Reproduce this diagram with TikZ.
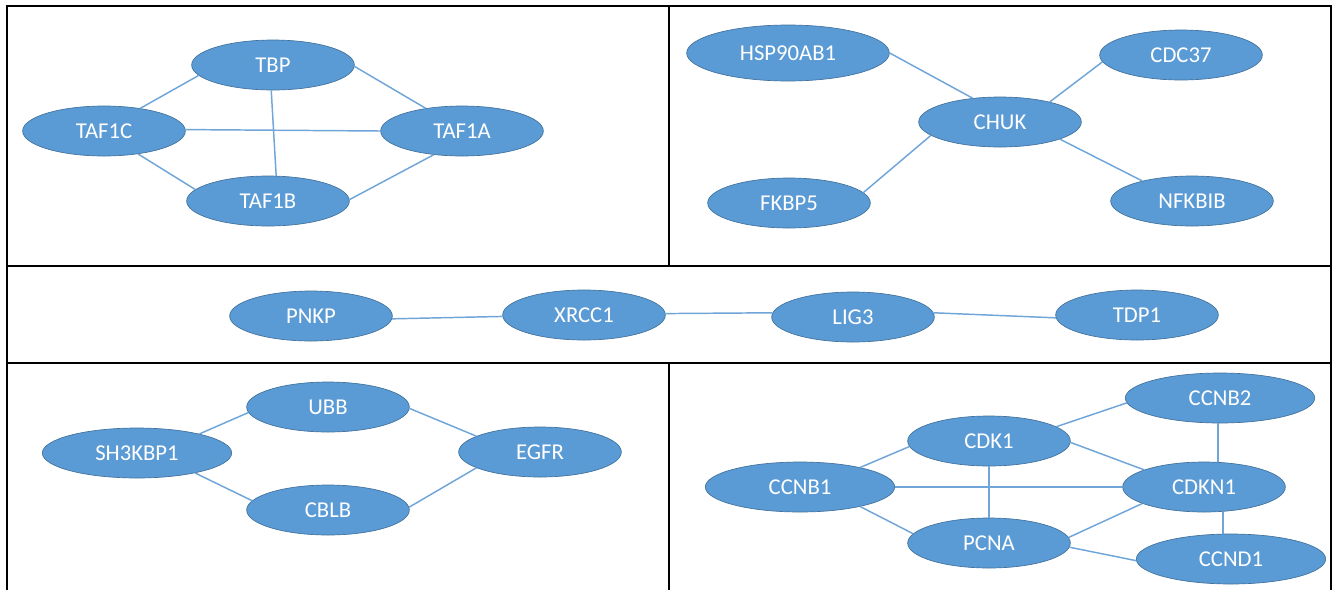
\documentclass[tikz,border=0pt]{standalone}
\usepackage{fontspec}
\setmainfont{Carlito}
\usetikzlibrary{shapes.geometric}
\definecolor{genefill}{HTML}{5B9BD5}
\definecolor{genedraw}{HTML}{41719C}
\definecolor{edgecol}{HTML}{6FA5D8}
\tikzset{
  gene/.style={ellipse, fill=genefill, draw=genedraw, line width=0.5pt,
    minimum width=122pt, minimum height=37.5pt, inner sep=0pt,
    text=white, font=\fontsize{17}{20}\selectfont},
  widegene/.style={gene, minimum width=142pt},
  link/.style={draw=edgecol, line width=1.1pt},
  frameline/.style={draw=black, line width=1.3pt}
}
\begin{document}
\begin{tikzpicture}[x=0.75pt, y=-0.75pt]
\useasboundingbox (0,0) rectangle (1338,590);
% frames
\draw[frameline] (7,590) -- (7,6) -- (1331,6) -- (1331,590);
\draw[frameline] (7,266) -- (1331,266);
\draw[frameline] (7,363) -- (1331,363);
\draw[frameline] (669,6) -- (669,266);
\draw[frameline] (669,363) -- (669,590);

% top-left
\node[gene] (TBP) at (273,65) {TBP};
\node[gene] (TAF1C) at (104,131) {TAF1C};
\node[gene] (TAF1A) at (462,131) {TAF1A};
\node[gene] (TAF1B) at (268,201) {TAF1B};

% top-right
\node[gene, minimum width=152pt, minimum height=42pt] (HSP) at (788,53) {HSP90AB1};
\node[gene] (CDC37) at (1181,55) {CDC37};
\node[gene] (CHUK) at (1000,122) {CHUK};
\node[gene] (FKBP5) at (789,203) {FKBP5};
\node[gene] (NFKBIB) at (1192,201) {NFKBIB};

% middle
\node[gene] (PNKP) at (311,316) {PNKP};
\node[gene] (XRCC1) at (584,315) {XRCC1};
\node[gene] (LIG3) at (853,317) {LIG3};
\node[gene] (TDP1) at (1137,315) {TDP1};

% bottom-left
\node[gene] (UBB) at (328,407) {UBB};
\node[widegene] (SH3) at (137,453) {SH3KBP1};
\node[gene] (EGFR) at (540,452) {EGFR};
\node[gene] (CBLB) at (328,510) {CBLB};

% bottom-right
\node[widegene] (CCNB2) at (1220,398) {CCNB2};
\node[gene] (CDK1) at (989,441) {CDK1};
\node[widegene] (CCNB1) at (800,487) {CCNB1};
\node[gene] (CDKN1) at (1204,487) {CDKN1};
\node[gene] (PCNA) at (989,543) {PCNA};
\node[widegene] (CCND1) at (1231,559) {CCND1};

% edges top-left
\draw[link] (TBP.188) -- (TAF1C.32);
\draw[link] (TBP.359) -- (TAF1A.148);
\draw[link] (TBP.266) -- (TAF1B.72);
\draw[link] (TAF1C.1) -- (TAF1A.180);
\draw[link] (TAF1C.326) -- (TAF1B.171);
\draw[link] (TAF1B.1) -- (TAF1A.220);

% edges top-right
\draw[link] (HSP.0) -- (CHUK.139);
\draw[link] (CDC37.185) -- (CHUK.22);
\draw[link] (FKBP5.8) -- (CHUK.191);
\draw[link] (NFKBIB.158) -- (CHUK.344);

% edges middle
\draw[link] (PNKP.358) -- (XRCC1.181);
\draw[link] (XRCC1.1) -- (LIG3.177);
\draw[link] (LIG3.3) -- (TDP1.182);

% edges bottom-left
\draw[link] (SH3.17) -- (UBB.184);
\draw[link] (SH3.341) -- (CBLB.173);
\draw[link] (UBB.359) -- (EGFR.166);
\draw[link] (CBLB.2) -- (EGFR.194);

% edges bottom-right
\draw[link] (CCNB1.18) -- (CDK1.184);
\draw[link] (CCNB1.0) -- (CDKN1.180);
\draw[link] (CCNB1.342) -- (PCNA.173);
\draw[link] (CDK1.12) -- (CCNB2.183);
\draw[link] (CDK1.359) -- (CDKN1.164);
\draw[link] (CDK1.south) -- (PCNA.north);
\draw[link] ([xshift=-1.5pt]CCNB2.south) -- ([xshift=-1.5pt]CCNB2.south |- CDKN1.north);
\draw[link] (PCNA.4) -- (CDKN1.195);
\draw[link] ([xshift=-6pt]CCND1.north) -- ([xshift=-6pt]CCND1.north |- CDKN1.south);
\draw[link] (PCNA.357) -- (CCND1.181);
\end{tikzpicture}
\end{document}
